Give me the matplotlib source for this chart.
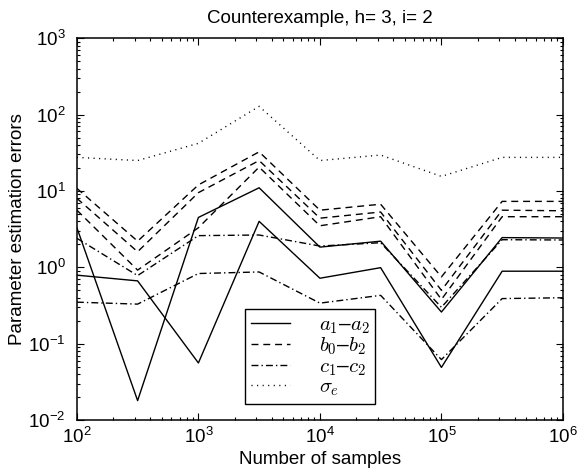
import matplotlib

matplotlib.use("Agg")
import matplotlib.pyplot as plt
from matplotlib.ticker import LogLocator, NullFormatter

plt.rcParams["font.family"] = ["Liberation Sans", "DejaVu Sans"]
plt.rcParams["mathtext.fontset"] = "custom"
plt.rcParams["mathtext.rm"] = "Liberation Sans"
plt.rcParams["mathtext.it"] = "Liberation Sans:italic"

# number of samples (half-decade steps)
n_samples = [1e2, 3.16e2, 1e3, 3.16e3, 1e4, 3.16e4, 1e5, 3.16e5, 1e6]

# a1-a2 errors (two parameters)
a_err_1 = [3.3, 0.018, 4.5, 11.0, 1.84, 2.2, 0.26, 2.45, 2.42]
a_err_2 = [0.79, 0.665, 0.056, 4.0, 0.72, 0.99, 0.049, 0.89, 0.89]
# b0-b2 errors (three parameters)
b_err_0 = [10.8, 2.2, 12.0, 32.5, 5.6, 6.7, 0.75, 7.3, 7.3]
b_err_1 = [8.0, 1.6, 9.5, 25.0, 4.4, 5.3, 0.5, 5.6, 5.5]
b_err_2 = [5.6, 0.92, 3.3, 20.5, 3.5, 4.6, 0.38, 4.6, 4.6]
# c1-c2 errors (two parameters)
c_err_1 = [2.4, 0.78, 2.6, 2.65, 1.9, 2.1, 0.3, 2.3, 2.28]
c_err_2 = [0.35, 0.33, 0.83, 0.87, 0.34, 0.43, 0.062, 0.39, 0.40]
# noise std error
sigma_err = [27.5, 25.0, 42.0, 128.0, 25.0, 29.5, 15.5, 27.5, 27.5]

labels = [r"$a_1$–$a_2$", r"$b_0$–$b_2$", r"$c_1$–$c_2$", r"$\sigma_e$"]

DASH = (0, (5.0, 3.5))
DASHDOT = (0, (5.0, 2.2, 1.0, 2.2))
DOT = (0, (0.8, 3.2))
LW = 1.0

fig = plt.figure(figsize=(5.87, 4.71), dpi=100)
ax = fig.add_axes([0.131, 0.108, 0.828, 0.811])

h_a, = ax.plot(n_samples, a_err_1, color="k", lw=LW, ls="-")
ax.plot(n_samples, a_err_2, color="k", lw=LW, ls="-")
h_b, = ax.plot(n_samples, b_err_0, color="k", lw=LW, ls=DASH)
ax.plot(n_samples, b_err_1, color="k", lw=LW, ls=DASH)
ax.plot(n_samples, b_err_2, color="k", lw=LW, ls=DASH)
h_c, = ax.plot(n_samples, c_err_1, color="k", lw=LW, ls=DASHDOT)
ax.plot(n_samples, c_err_2, color="k", lw=LW, ls=DASHDOT)
h_s, = ax.plot(n_samples, sigma_err, color="k", lw=LW, ls=DOT)

ax.set_xscale("log")
ax.set_yscale("log")
ax.set_xlim(1e2, 1e6)
ax.set_ylim(1e-2, 1e3)
ax.xaxis.set_major_locator(LogLocator(base=10, numticks=10))
ax.yaxis.set_major_locator(LogLocator(base=10, numticks=10))
ax.xaxis.set_minor_locator(LogLocator(base=10, subs=range(2, 10), numticks=50))
ax.yaxis.set_minor_locator(LogLocator(base=10, subs=range(2, 10), numticks=50))
ax.xaxis.set_minor_formatter(NullFormatter())
ax.yaxis.set_minor_formatter(NullFormatter())

ax.tick_params(which="both", direction="in", top=True, right=True, width=0.8)
ax.tick_params(which="major", length=5, labelsize=13.5)
ax.tick_params(which="minor", length=2.5)
ax.tick_params(axis="x", which="major", pad=5)
ax.tick_params(axis="y", which="major", pad=8)
for sp in ax.spines.values():
    sp.set_linewidth(1.1)

ax.set_title("Counterexample, h= 3, i= 2", fontsize=13.5, pad=11)
ax.set_xlabel("Number of samples", fontsize=13.5, labelpad=3)
ax.set_ylabel("Parameter estimation errors", fontsize=13.5, labelpad=2)

leg = ax.legend([h_a, h_b, h_c, h_s], labels, loc="lower left",
                bbox_to_anchor=(0.346, 0.042), fontsize=15, frameon=True,
                fancybox=False, edgecolor="k", framealpha=1, handlelength=1.9,
                handletextpad=1.35, labelspacing=0.0, borderpad=0.28,
                borderaxespad=0)
leg.get_frame().set_linewidth(1.0)
for t in leg.get_texts():
    t.set_math_fontfamily("cm")

fig.savefig("out.png", dpi=100)
